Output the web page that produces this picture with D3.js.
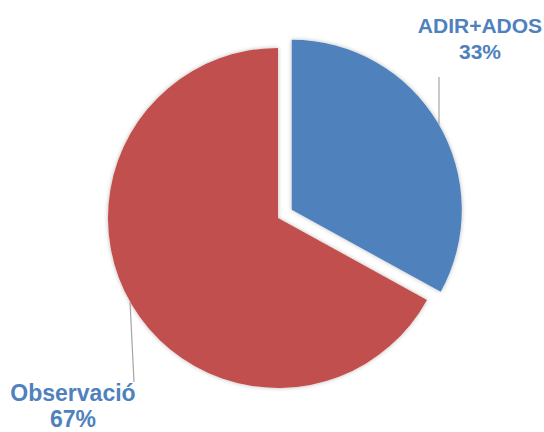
<!DOCTYPE html>
<html>
<head>
<meta charset="utf-8">
<script src="https://cdn.jsdelivr.net/npm/d3@7"></script>
<style>
  html, body { margin: 0; padding: 0; background: #fff; }
  svg { display: block; }
  .lbl { font-family: "Liberation Sans", Arial, sans-serif; font-weight: bold; fill: #4F81BD; }
</style>
</head>
<body>
<svg id="chart" width="544" height="432"></svg>
<script>
// Share of diagnostic method
const categories = ["ADIR+ADOS", "Observació"];
const values = [33, 67];
const colors = ["#4F81BD", "#C0504D"];

const svg = d3.select("#chart");
const cx = 278, cy = 218, radius = 170, explode = 16;

const defs = svg.append("defs");
const f = defs.append("filter").attr("id", "shadow")
  .attr("x", "-10%").attr("y", "-10%").attr("width", "120%").attr("height", "120%");
f.append("feDropShadow").attr("dx", 0).attr("dy", 0).attr("stdDeviation", 2.2)
  .attr("flood-color", "#000").attr("flood-opacity", 0.28);

const pie = d3.pie().sort(null).value(d => d)(values);
const arc = d3.arc().innerRadius(0).outerRadius(radius);

const g = svg.append("g").attr("transform", `translate(${cx},${cy})`);

function offset(d, i) {
  if (i !== 0) return [0, 0];
  const a = (d.startAngle + d.endAngle) / 2;
  return [Math.sin(a) * explode, -Math.cos(a) * explode];
}

g.selectAll("path.slice").data(pie).join("path")
  .attr("class", "slice")
  .attr("d", arc)
  .attr("fill", (d, i) => colors[i])
  .attr("filter", "url(#shadow)")
  .attr("transform", (d, i) => { const o = offset(d, i); return `translate(${o[0]},${o[1]})`; });

// Leader lines: segment from the arc edge toward each label
const leaders = [
  { x: 439 - cx, xEnd: 439 - cx, yEnd: 77 - cy, slice: 0, sign: -1 },
  { x: 130 - cx, xEnd: 134 - cx, yEnd: 382 - cy, slice: 1, sign: 1 }
];
leaders.forEach(l => {
  const o = offset(pie[l.slice], l.slice);
  const dx = l.x - o[0];
  const y0 = o[1] + l.sign * Math.sqrt(radius * radius - dx * dx);
  g.append("line")
    .attr("x1", l.x).attr("y1", y0)
    .attr("x2", l.xEnd).attr("y2", l.yEnd)
    .attr("stroke", "#A6A6A6").attr("stroke-width", 1.2);
});

// Data labels: category name over its percentage
const fmt = d3.format(".0%");
const total = d3.sum(values);
const labelPos = [[480, 33], [73, 401]];
const labelSize = [21, 23];
categories.forEach((c, i) => {
  const t = svg.append("text").attr("class", "lbl")
    .attr("text-anchor", "middle")
    .attr("x", labelPos[i][0]).attr("y", labelPos[i][1])
    .style("font-size", labelSize[i] + "px");
  t.append("tspan").attr("x", labelPos[i][0]).text(c);
  t.append("tspan").attr("x", labelPos[i][0]).attr("dy", 26).text(fmt(values[i] / total));
});
</script>
</body>
</html>
